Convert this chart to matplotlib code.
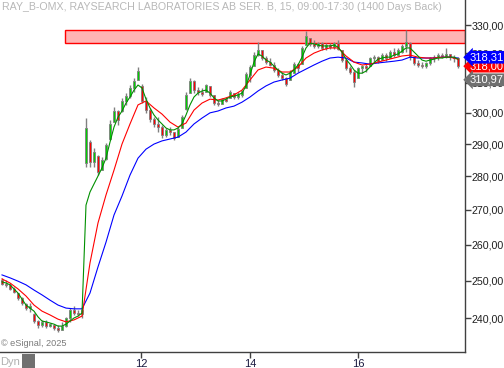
import matplotlib
matplotlib.use('Agg')
import matplotlib.pyplot as plt
import numpy as np
from matplotlib.ticker import FixedLocator, FuncFormatter, NullLocator
from matplotlib.patches import Rectangle
import matplotlib.transforms as mtransforms

plt.rcParams['font.family'] = ['Liberation Sans', 'DejaVu Sans']

title = "RAY_B-OMX, RAYSEARCH LABORATORIES AB SER. B, 15, 09:00-17:30 (1400 Days Back)"

opens = [250.3, 249.2, 248.8, 247.9, 246.6, 245.3, 243.8, 242.6, 241.1, 239.2,
         238.2, 239.1, 238.0, 238.3, 237.4, 237.0, 238.0, 240.1, 242.3, 241.5,
         241.1, 284.1, 290.6, 284.4, 286.3, 281.9, 285.3, 291.6, 297.0, 300.6,
         300.6, 303.9, 305.5, 308.2, 311.0, 308.9, 303.9, 300.9, 298.0, 296.4,
         295.4, 292.9, 294.5, 293.8, 292.2, 295.1, 301.2, 306.5, 310.5, 307.5,
         306.9, 306.9, 308.9, 305.9, 303.2, 302.9, 304.5, 304.9, 306.5, 305.2,
         305.9, 308.2, 312.6, 315.6, 319.4, 321.2, 318.4, 317.0, 316.0, 314.3,
         312.6, 311.5, 310.9, 313.2, 316.3, 316.3, 322.9, 325.4, 323.3, 322.6,
         323.6, 321.9, 322.9, 322.2, 323.6, 321.2, 317.7, 314.9, 313.6, 311.5,
         314.9, 315.6, 315.6, 318.4, 318.7, 317.7, 319.4, 318.4, 320.5, 319.4,
         320.5, 322.6, 323.6, 318.7, 316.7, 316.0, 315.6, 316.7, 318.4, 318.7,
         319.4, 319.1, 319.8, 318.7, 318.4]
highs = [250.8, 250.2, 249.4, 248.3, 246.7, 245.6, 244.0, 244.0, 241.4, 239.6,
         239.6, 239.6, 238.8, 238.3, 238.3, 239.1, 240.4, 242.7, 243.2, 242.2,
         243.0, 298.3, 291.3, 288.8, 286.6, 285.9, 290.3, 297.7, 301.9, 300.9,
         304.9, 306.5, 309.2, 311.5, 315.3, 309.5, 305.2, 301.6, 298.6, 298.6,
         296.1, 295.1, 295.4, 293.8, 295.4, 299.3, 306.9, 311.5, 310.9, 308.5,
         308.2, 309.5, 308.9, 305.9, 304.2, 304.9, 305.2, 307.5, 306.5, 306.9,
         307.5, 313.6, 316.0, 320.5, 324.0, 321.2, 319.1, 318.4, 317.0, 314.9,
         313.6, 311.9, 314.3, 317.0, 316.7, 322.6, 327.9, 325.4, 324.7, 324.0,
         324.0, 323.6, 323.6, 324.0, 324.7, 321.2, 318.0, 315.6, 314.3, 315.3,
         316.0, 316.3, 318.7, 319.4, 319.1, 320.1, 320.1, 321.2, 321.9, 321.9,
         323.3, 328.2, 324.0, 318.7, 317.7, 317.0, 317.0, 318.7, 319.4, 320.1,
         320.1, 321.9, 319.8, 319.4, 318.7]
lows = [248.9, 248.3, 247.5, 246.7, 244.8, 243.5, 242.2, 241.7, 238.8, 237.5,
        237.8, 237.5, 237.8, 237.0, 236.5, 237.0, 237.8, 239.1, 240.9, 240.6,
        240.1, 282.9, 282.9, 282.9, 280.4, 281.9, 285.0, 291.3, 297.0, 296.1,
        300.3, 302.6, 304.9, 306.9, 310.9, 303.2, 300.0, 297.0, 295.4, 293.8,
        291.9, 292.2, 292.9, 291.3, 292.2, 295.1, 300.9, 306.5, 306.5, 305.9,
        305.5, 306.9, 305.2, 302.6, 302.2, 302.9, 303.5, 304.9, 304.5, 304.5,
        305.2, 308.2, 310.2, 315.6, 319.1, 317.7, 316.3, 315.6, 313.6, 311.9,
        310.9, 308.9, 310.9, 313.2, 313.6, 316.3, 322.9, 322.6, 321.9, 321.9,
        321.2, 321.2, 321.5, 321.5, 321.2, 317.0, 314.3, 312.9, 308.5, 311.5,
        313.2, 313.6, 315.6, 317.0, 316.7, 317.7, 317.3, 318.4, 318.7, 319.1,
        320.1, 320.5, 317.7, 316.0, 315.3, 314.9, 314.9, 316.0, 317.0, 317.7,
        318.4, 318.4, 317.7, 317.0, 314.9]
closes = [249.2, 248.8, 247.9, 247.0, 245.3, 244.0, 242.6, 243.2, 239.2, 238.2,
          239.1, 238.0, 238.5, 237.4, 237.0, 238.0, 240.1, 242.3, 241.5, 241.1,
          242.3, 295.1, 284.4, 287.5, 281.3, 285.0, 289.7, 296.4, 300.6, 297.7,
          303.9, 305.5, 308.2, 310.5, 313.9, 303.9, 300.9, 298.0, 296.4, 295.4,
          292.9, 294.5, 293.8, 291.9, 294.8, 298.6, 305.9, 310.5, 307.5, 306.9,
          306.2, 309.2, 305.9, 303.2, 302.9, 304.5, 303.9, 306.9, 305.2, 306.2,
          307.2, 312.9, 315.3, 319.4, 321.2, 318.4, 317.0, 316.0, 314.3, 312.6,
          311.5, 309.5, 313.6, 316.3, 314.9, 321.9, 326.1, 323.3, 322.6, 323.6,
          321.9, 322.9, 322.2, 323.6, 321.5, 317.7, 314.9, 313.6, 310.2, 314.9,
          315.6, 314.9, 318.4, 318.7, 317.3, 319.4, 318.4, 320.5, 319.4, 321.2,
          322.6, 324.0, 318.7, 316.7, 316.0, 315.6, 316.7, 318.4, 318.7, 319.4,
          319.1, 319.8, 318.7, 318.4, 315.6]

# moving averages: fast one per bar, medium and slow every second bar
ma_fast = [249.7, 249.4, 248.9, 247.8, 246.7, 245.1, 243.5, 242.7, 241.9, 240.4,
           239.3, 239.1, 238.8, 238.5, 238.0, 238.0, 238.5, 239.3, 240.1, 240.6,
           241.4, 271.4, 275.3, 277.7, 280.1, 282.6, 285.6, 290.6, 295.4, 298.6,
           300.6, 303.2, 305.2, 307.5, 309.2, 308.2, 304.5, 301.6, 299.3, 297.7,
           296.4, 295.1, 294.5, 294.5, 295.1, 296.4, 299.3, 302.6, 305.2, 306.5,
           307.2, 307.5, 306.5, 304.9, 303.9, 303.9, 304.5, 305.2, 305.5, 305.9,
           306.5, 308.9, 312.6, 317.0, 319.8, 319.1, 317.7, 317.0, 315.6, 314.3,
           313.2, 312.6, 313.2, 314.3, 316.0, 318.7, 321.9, 323.6, 323.3, 322.9,
           322.6, 322.6, 322.6, 322.9, 322.2, 320.5, 318.0, 316.3, 314.3, 313.2,
           313.2, 313.9, 315.3, 316.7, 318.0, 318.4, 318.7, 318.7, 319.4, 319.8,
           320.8, 321.9, 321.9, 320.5, 319.1, 317.7, 317.3, 317.7, 318.0, 318.4,
           318.4, 318.7, 318.7, 318.7, 318.0]
ma_mid = [250.5, 249.4, 247.8, 245.9, 243.5, 241.9, 240.9, 239.8, 239.1, 239.6,
          240.6, 254.9, 266.2, 274.4, 281.9, 290.0, 296.4, 302.6, 303.9, 301.6,
          299.6, 297.0, 295.4, 296.7, 300.9, 303.2, 304.5, 304.2, 304.9, 305.9,
          307.5, 310.9, 314.3, 315.3, 314.9, 313.6, 313.6, 315.3, 318.4, 320.1,
          321.2, 321.9, 321.9, 319.1, 317.0, 316.0, 316.3, 317.0, 317.7, 318.4,
          319.1, 319.4, 318.7, 318.4, 318.4, 318.7, 318.7, 318.0]
ma_slow = [251.6, 250.8, 249.9, 248.9, 247.5, 246.2, 244.8, 243.5, 242.7, 242.5,
           242.5, 246.7, 253.8, 260.7, 268.5, 274.1, 280.4, 285.6, 288.4, 290.0,
           291.0, 291.6, 292.2, 293.8, 296.4, 298.3, 300.0, 300.6, 301.6, 302.2,
           303.5, 305.2, 307.2, 308.9, 310.2, 310.9, 311.5, 313.2, 314.6, 316.0,
           317.3, 318.4, 318.7, 318.4, 317.0, 316.7, 316.3, 316.7, 317.0, 317.3,
           317.7, 318.7, 318.4, 318.4, 318.4, 318.7, 318.7, 318.4]

# resistance zone
zone_start = 15.75
zone_low, zone_high = 323.8, 328.2

y_ticks = [240, 250, 260, 270, 280, 290, 300, 310, 320, 330]
x_tick_pos = [34.75, 62.0, 89.0]
x_tick_labels = ["12", "14", "16"]

tag_values = [318.00, 318.31, 310.97]
tag_colors = ['#ff0000', '#0000ff', '#707070']

fig = plt.figure(figsize=(5.04, 3.68), dpi=100)
ax = fig.add_axes([0, 16 / 368, 465 / 504, 352 / 368])
ax.set_yscale('log')
ax.set_ylim(231.4, 339.1)
ax.set_xlim(-0.5, 115.75)

N = len(closes)
idx = np.arange(N)
o = np.array(opens)
h = np.array(highs)
l = np.array(lows)
c = np.array(closes)

xr = ax.get_xlim()[1]
ax.add_patch(Rectangle((zone_start, zone_low), xr - zone_start, zone_high - zone_low,
                       facecolor='#ffb4b4', edgecolor='#ff0000', lw=1.0, zorder=1))

ax.vlines(idx, l, h, color='#808080', lw=1.0, zorder=3)
up = c >= o
body_colors = np.where(up, '#00d000', '#ff0000')
ax.bar(idx, np.abs(c - o), bottom=np.minimum(o, c), width=0.55, color=body_colors,
       edgecolor='#808080', linewidth=0.6, zorder=4)

mid_idx = np.arange(0, N, 2)
ax.plot(mid_idx, ma_slow, color='#0000ff', lw=0.8, zorder=5)
ax.plot(mid_idx, ma_mid, color='#ff0000', lw=0.8, zorder=6)
ax.plot(idx, ma_fast, color='#009000', lw=0.8, zorder=7)

for s in ['left', 'top']:
    ax.spines[s].set_visible(False)
for s in ['right', 'bottom']:
    ax.spines[s].set_color('#404040')
    ax.spines[s].set_linewidth(1.0)

ax.yaxis.tick_right()
ax.yaxis.set_major_locator(FixedLocator(y_ticks))
ax.yaxis.set_minor_locator(NullLocator())
ax.yaxis.set_major_formatter(FuncFormatter(lambda v, _: f"{v:.2f}".replace('.', ',')))
ax.tick_params(axis='y', direction='out', length=4, width=1, color='#404040',
               labelsize=7.7, labelcolor='#202020', pad=0.8)
ax.set_xticks(x_tick_pos)
ax.set_xticklabels(x_tick_labels)
ax.tick_params(axis='x', direction='out', length=4, width=1, color='#404040',
               labelsize=8, labelcolor='#1a1a40', pad=1)

trans = mtransforms.blended_transform_factory(ax.transAxes, ax.transData)
offsets = [-7, 1, 0]
for val, col, dy, z in zip(tag_values, tag_colors, offsets, [10, 11, 10]):
    ax.annotate(f"{val:.2f}".replace('.', ','), xy=(1, val), xycoords=trans,
                xytext=(5, dy), textcoords='offset pixels', ha='left', va='center',
                fontsize=8, color='white',
                bbox=dict(boxstyle='larrow,pad=0.12', fc=col, ec='none'),
                annotation_clip=False, zorder=z)

fig.text(2 / 504, 1 - 7 / 368, title, fontsize=7.7, color='#b8b8b8', va='center', ha='left')
fig.text(1 / 504, 1 - 343 / 368, '\u00a9 eSignal, 2025', fontsize=6.6, color='#7a7a7a',
         va='center', ha='left')
fig.text(0, 1 - 362 / 368, 'Dyn', fontsize=8, color='#b0b0b0', va='center', ha='left')
fig.add_artist(Rectangle((22 / 504, 0), 13 / 504, 14 / 368, transform=fig.transFigure,
                         facecolor='#707070', edgecolor='none'))

fig.savefig('out.png', dpi=100)
